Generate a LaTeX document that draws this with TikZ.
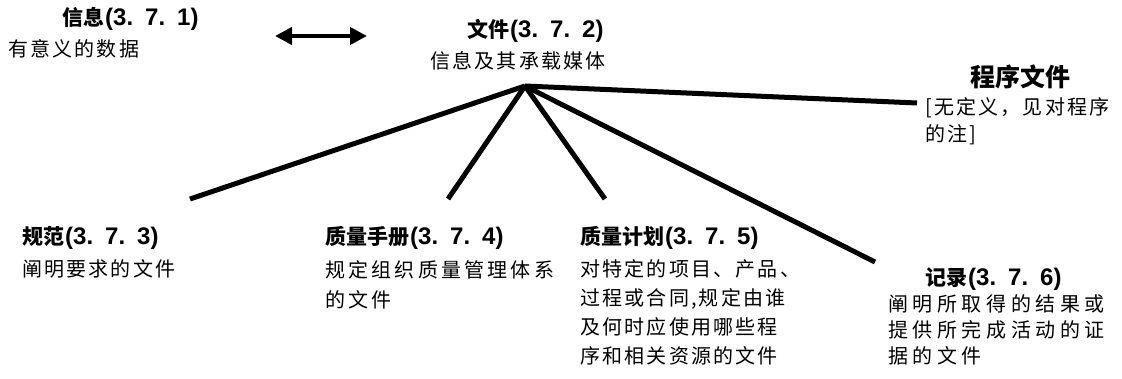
\documentclass[tikz,border=0pt]{standalone}
\usepackage{fontspec}
\newfontfamily\cjk{Noto Sans CJK SC}
\newfontfamily\bodyA{Noto Sans CJK SC}[LetterSpace=11]
\newfontfamily\bodyB{Noto Sans CJK SC}[LetterSpace=16]
\newfontfamily\bodyC{Noto Sans CJK SC}[LetterSpace=23]
\newfontfamily\numfont{Liberation Sans}
\newcommand\secnum[3]{{\numfont\bfseries\fontsize{24}{24}\selectfont\hspace{1pt}(#1.\hspace{12pt}#2.\hspace{12pt}#3)}}
\usetikzlibrary{arrows.meta}
\begin{document}
\begin{tikzpicture}[x=1pt,y=-1pt,
  head/.style={inner sep=0pt,anchor=base west,font=\cjk\bfseries\fontsize{21}{23}\selectfont},
  body/.style={inner sep=0pt,anchor=north west,align=left,font=\bodyA\fontsize{20}{29}\selectfont},
  link/.style={line width=5pt,line cap=butt}]
\useasboundingbox (0,0) rectangle (1122,379);
\fill[white] (0,0) rectangle (1122,379);
% headings and definitions
\node[head] (h1) at (62,26) {信息\secnum{3}{7}{1}};
\node[body] (b1) at (8,39) {有意义的数据};
\node[head] (h2) at (467,38) {文件\secnum{3}{7}{2}};
\node[body] (b2) at (430,51) {信息及其承载媒体};
\node[head,font=\cjk\bfseries\fontsize{25}{27}\selectfont] (h7) at (970,87) {程序文件};
\node[body,font=\bodyA\fontsize{20}{27}\selectfont] (b7) at (925,97) {[无定义，见对程序\\的注]};
\node[head] (h3) at (22,245) {规范\secnum{3}{7}{3}};
\node[body] (b3) at (22,259) {阐明要求的文件};
\node[head] (h4) at (325,245) {质量手册\secnum{3}{7}{4}};
\node[body,font=\bodyB\fontsize{20}{30}\selectfont] (b4) at (325,260) {规定组织质量管理体系\\的文件};
\node[head] (h5) at (580,245) {质量计划\secnum{3}{7}{5}};
\node[body] (b5) at (580,259) {对特定的项目、产品、\\过程或合同,规定由谁\\及何时应使用哪些程\\序和相关资源的文件};
\node[head] (h6) at (925,286) {记录\secnum{3}{7}{6}};
\node[body,font=\bodyC\fontsize{20}{26}\selectfont] (b6) at (888,294) {阐明所取得的结果或\\提供所完成活动的证\\据的文件};
% hub and line ends
\coordinate (hub) at (525,86);
\coordinate (e3) at (190,199);
\coordinate (e4) at (448,199);
\coordinate (e5) at (605,199);
\coordinate (e6) at (875,262);
\coordinate (e7) at (917,103);
\draw[link] (hub) -- (e3);
\draw[link] (hub) -- (e4);
\draw[link] (hub) -- (e5);
\draw[link] (hub) -- (e6);
\draw[link] (hub) -- (e7);
% double arrow
\coordinate (aL) at (275,36);
\coordinate (aR) at (367,36);
\draw[line width=4.5pt,{Triangle[length=17pt,width=17pt]}-{Triangle[length=17pt,width=17pt]}] (aL) -- (aR);
\end{tikzpicture}
\end{document}
